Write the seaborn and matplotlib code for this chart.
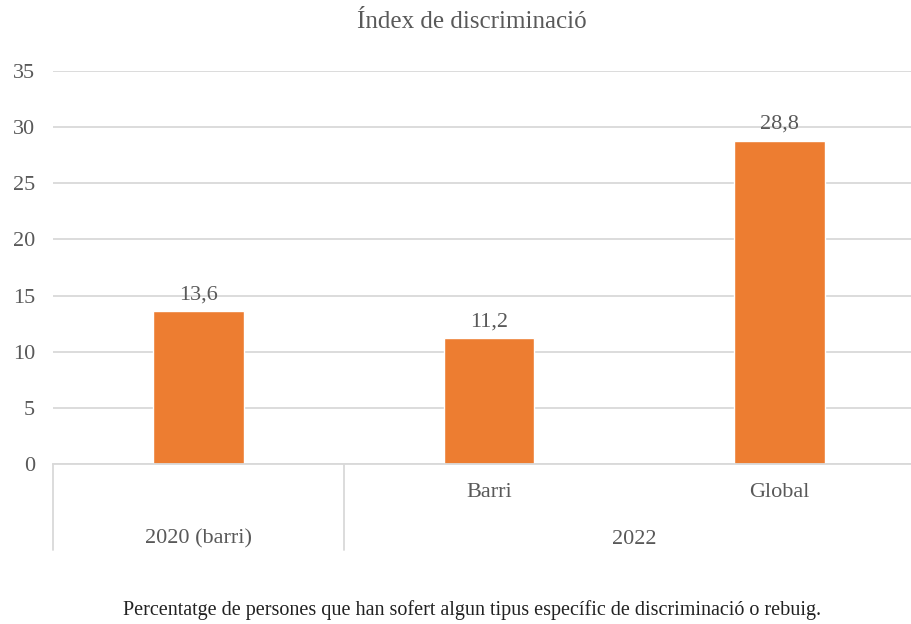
import matplotlib
matplotlib.use("Agg")
import matplotlib.pyplot as plt
import matplotlib.transforms as mtransforms
import pandas as pd
import seaborn as sns

# Dades del gràfic
categories = ["2020 (barri)", "Barri", "Global"]
values = [13.6, 11.2, 28.8]
tick_labels = ["", "Barri", "Global"]
group_labels = ["2020 (barri)", "2022"]
group_spans = [(0, 0), (1, 2)]
title = "Índex de discriminació"
footnote = "Percentatge de persones que han sofert algun tipus específic de discriminació o rebuig."

sns.set_theme(style="white")
plt.rcParams["font.family"] = ["Liberation Serif", "DejaVu Serif"]

text_color = "#595959"
grid_color = "#d9d9d9"
bar_color = "#ED7D31"

df = pd.DataFrame({"cat": categories, "val": values})

fig = plt.figure(figsize=(9.12, 6.24), dpi=100)
ax = fig.add_axes([53 / 912, 1 - 464 / 624, 872 / 912, 393 / 624])

sns.barplot(data=df, x="cat", y="val", color=bar_color, width=0.313, saturation=1, ax=ax)

ax.set_ylim(0, 35)
ax.set_xlim(-0.5, 2.5)
ax.set_yticks(range(0, 36, 5))
ax.yaxis.grid(True, color=grid_color, linewidth=1.3)
ax.set_axisbelow(True)
for s in ["top", "right", "left"]:
    ax.spines[s].set_visible(False)
ax.spines["bottom"].set_color(grid_color)
ax.spines["bottom"].set_linewidth(1.3)
ax.set_xlabel("")
ax.set_ylabel("")
ax.tick_params(axis="y", length=0, pad=13, labelsize=16, labelcolor=text_color)
ax.tick_params(axis="x", length=0, pad=14, labelsize=16, labelcolor=text_color)
ax.set_xticks(range(len(categories)))
ax.set_xticklabels(tick_labels)

# Etiquetes de dades
for i, v in enumerate(values):
    ax.annotate(f"{v:.1f}".replace(".", ","), (i, v), xytext=(0, 5), textcoords="offset points",
                ha="center", va="bottom", fontsize=16, color=text_color)

# Eix de categories en dos nivells
trans = mtransforms.blended_transform_factory(ax.transData, ax.transAxes)
line_bottom = -86 / 393
for x in [-0.5, 0.5]:
    ax.plot([x, x], [0, line_bottom], transform=trans, color=grid_color, linewidth=1.3, clip_on=False)
for lab, (a, b) in zip(group_labels, group_spans):
    ax.text((a + b) / 2, -75 / 393, lab, transform=trans, ha="center", va="center",
            fontsize=16, color=text_color)

fig.text(472 / 912, 1 - 22 / 624, title, ha="center", va="center", fontsize=18, color=text_color)
fig.text(472 / 912, 1 - 610 / 624, footnote, ha="center", va="center", fontsize=14.5, color="#222222")

fig.savefig("out.png", dpi=100)
